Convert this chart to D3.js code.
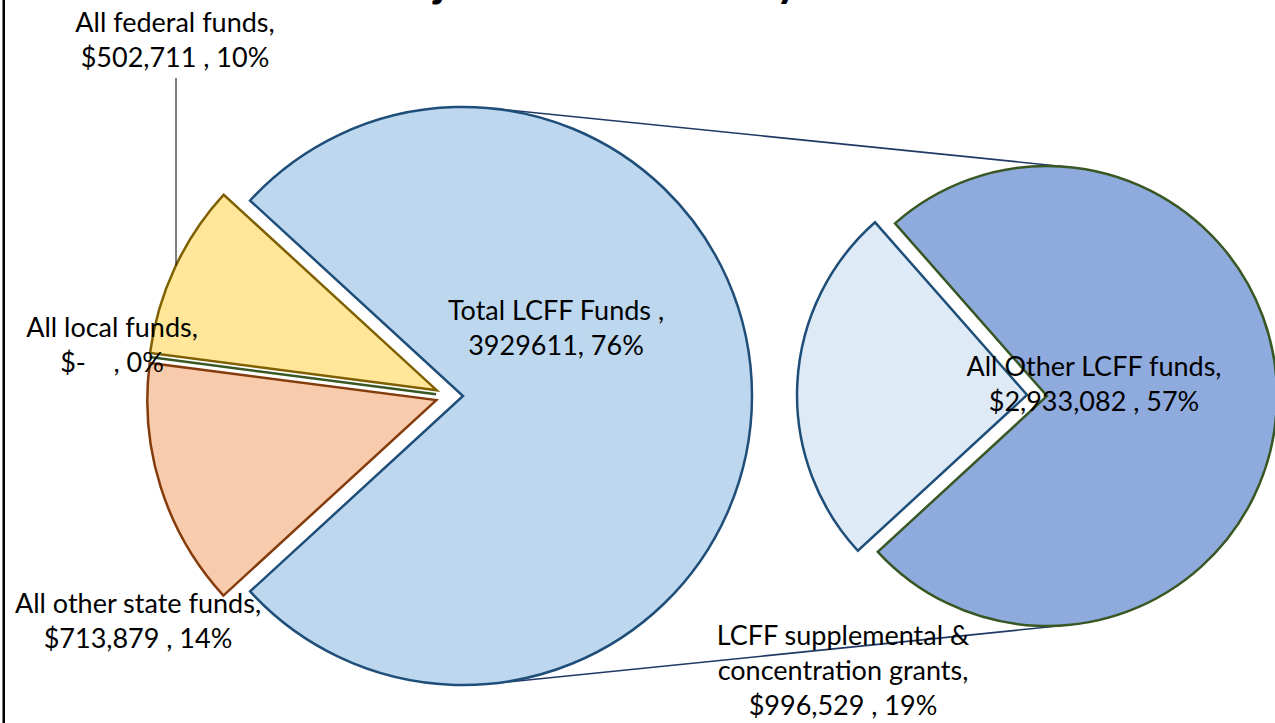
<!DOCTYPE html>
<html><head><meta charset="utf-8">
<script src="https://cdn.jsdelivr.net/npm/d3@7"></script>
<style>
body{margin:0;background:#fff;overflow:hidden}
text{font-family:Lato,"Open Sans",sans-serif;fill:#000}
</style>
</head><body>
<svg id="c" width="1275" height="723"></svg>
<script>
// ---------- data ----------
const chartTitle = "Projected Revenue by Fund Source";
const mainCategories = ["Total LCFF Funds", "All other state funds", "All local funds", "All federal funds"];
const mainValues = [3929611, 713879, 0, 502711];
const mainLabelNames = [["Total LCFF Funds ,"], ["All other state funds,"], ["All local funds,"], ["All federal funds,"]];
const subCategories = ["All Other LCFF funds", "LCFF supplemental & concentration grants"];
const subValues = [2933082, 996529];
const subLabelNames = [["All Other LCFF funds,"], ["LCFF supplemental &", "concentration grants,"]];

// ---------- layout / style ----------
const W = 1275, H = 723;
const main = {cx: 463, cy: 396, r: 289};
const sub = {cx: 1047, cy: 396, r: 230, rot: 3 * Math.PI / 180};
const mainFill = ["#BDD7EE", "#F8CBAD", "#E2F0D9", "#FFE699"];
const mainStroke = ["#1F4E79", "#843C0C", "#385723", "#7F6000"];
const mainExplode = [0, 27, 27, 27];
const subFill = ["#8FAADC", "#DEEBF7"];
const subStroke = ["#385723", "#1F4E79"];
const subExplode = [0, 20];
const mainLabelPos = [[556, 320], [138, 613], [112, 337], [175, 32]];
const subLabelPos = [[1094, 376], [843, 645]];
const FS = 27, LH = 35;

const svg = d3.select("#c");
const total = d3.sum(mainValues);
const money = v => v === 0 ? "$-   " : d3.format("$,")(v);
const pct = v => Math.round(v / total * 100) + "%";

// chart border (left edge visible)
svg.append("rect").attr("x", 3.75).attr("y", -100).attr("width", 1500).attr("height", 1000)
  .attr("fill", "none").attr("stroke", "#000").attr("stroke-width", 2.5);

// title (mostly above the visible frame)
const t = svg.append("text").attr("font-weight", "bold").attr("font-size", 44).attr("y", -4).text(chartTitle);
{
  const n = t.node();
  const j = n.getStartPositionOfChar(chartTitle.indexOf("j")).x;
  const y = n.getStartPositionOfChar(chartTitle.indexOf(" by") + 2).x;
  const fs = 44 * (776 - 434) / (y - j);
  t.attr("font-size", fs);
  const j2 = n.getStartPositionOfChar(chartTitle.indexOf("j")).x;
  t.attr("x", 434 - j2);
}

// series lines (outer common tangents)
{
  const d = sub.cx - main.cx;
  const phi = Math.asin((main.r - sub.r) / d);
  [-1, 1].forEach(s => {
    svg.append("line")
      .attr("x1", main.cx + main.r * Math.sin(phi)).attr("y1", main.cy + s * main.r * Math.cos(phi))
      .attr("x2", sub.cx + sub.r * Math.sin(phi)).attr("y2", sub.cy + s * sub.r * Math.cos(phi))
      .attr("stroke", "#1F3864").attr("stroke-width", 1.5);
  });
}

// main pie
const mainFrac = mainValues[0] / total;
const mainPie = d3.pie().sort(null).value(d => d)
  .startAngle(Math.PI / 2 - mainFrac * Math.PI)
  .endAngle(Math.PI / 2 - mainFrac * Math.PI + 2 * Math.PI);
const mainArcs = mainPie(mainValues);
const mainArc = d3.arc().innerRadius(0).outerRadius(main.r);
const explodeDir = a => {
  const base = 3 * Math.PI / 2;
  return base + (a - base) * 0.5;
};
const mainOffsets = mainArcs.map((a, i) => {
  const mid = (a.startAngle + a.endAngle) / 2;
  const dir = i === 0 ? mid : explodeDir(mid);
  return [Math.sin(dir) * mainExplode[i], -Math.cos(dir) * mainExplode[i]];
});
svg.append("g").attr("transform", `translate(${main.cx},${main.cy})`)
  .selectAll("path").data(mainArcs).join("path")
  .attr("transform", (d, i) => `translate(${mainOffsets[i][0]},${mainOffsets[i][1]})`)
  .attr("d", mainArc)
  .attr("fill", (d, i) => mainFill[i])
  .attr("stroke", (d, i) => mainStroke[i])
  .attr("stroke-width", 2.5)
  .attr("stroke-linejoin", "miter");

// second pie
const subTotal = d3.sum(subValues);
const subFrac = subValues[0] / subTotal;
const subStart = Math.PI / 2 - subFrac * Math.PI + sub.rot;
const subPie = d3.pie().sort(null).value(d => d).startAngle(subStart).endAngle(subStart + 2 * Math.PI);
const subArcs = subPie(subValues);
const subArc = d3.arc().innerRadius(0).outerRadius(sub.r);
svg.append("g").attr("transform", `translate(${sub.cx},${sub.cy})`)
  .selectAll("path").data(subArcs).join("path")
  .attr("transform", (d, i) => {
    const mid = (d.startAngle + d.endAngle) / 2;
    return `translate(${Math.sin(mid) * subExplode[i]},${-Math.cos(mid) * subExplode[i]})`;
  })
  .attr("d", subArc)
  .attr("fill", (d, i) => subFill[i])
  .attr("stroke", (d, i) => subStroke[i])
  .attr("stroke-width", 2.5);

// leader line for federal label
{
  const fi = 3;
  const lx = mainLabelPos[fi][0] + 1;
  const ccx = main.cx + mainOffsets[fi][0], ccy = main.cy + mainOffsets[fi][1];
  const ly = ccy - Math.sqrt(main.r * main.r - (lx - ccx) * (lx - ccx));
  svg.append("line").attr("x1", lx).attr("y1", mainLabelPos[fi][1] + LH + 11)
    .attr("x2", lx).attr("y2", ly).attr("stroke", "#000").attr("stroke-width", 1);
}

// labels
function label(lines, x, y) {
  const tx = svg.append("text").attr("text-anchor", "middle").attr("font-size", FS).style("white-space", "pre");
  lines.forEach((l, i) => tx.append("tspan").attr("x", x).attr("y", y + i * LH).text(l));
}
mainValues.forEach((v, i) => {
  const valLine = i === 0 ? `${v}, ${pct(v)}` : `${money(v)} , ${pct(v)}`;
  label([...mainLabelNames[i], valLine], mainLabelPos[i][0], mainLabelPos[i][1]);
});
subValues.forEach((v, i) => {
  label([...subLabelNames[i], `${money(v)} , ${pct(v)}`], subLabelPos[i][0], subLabelPos[i][1]);
});
</script>
</body></html>
